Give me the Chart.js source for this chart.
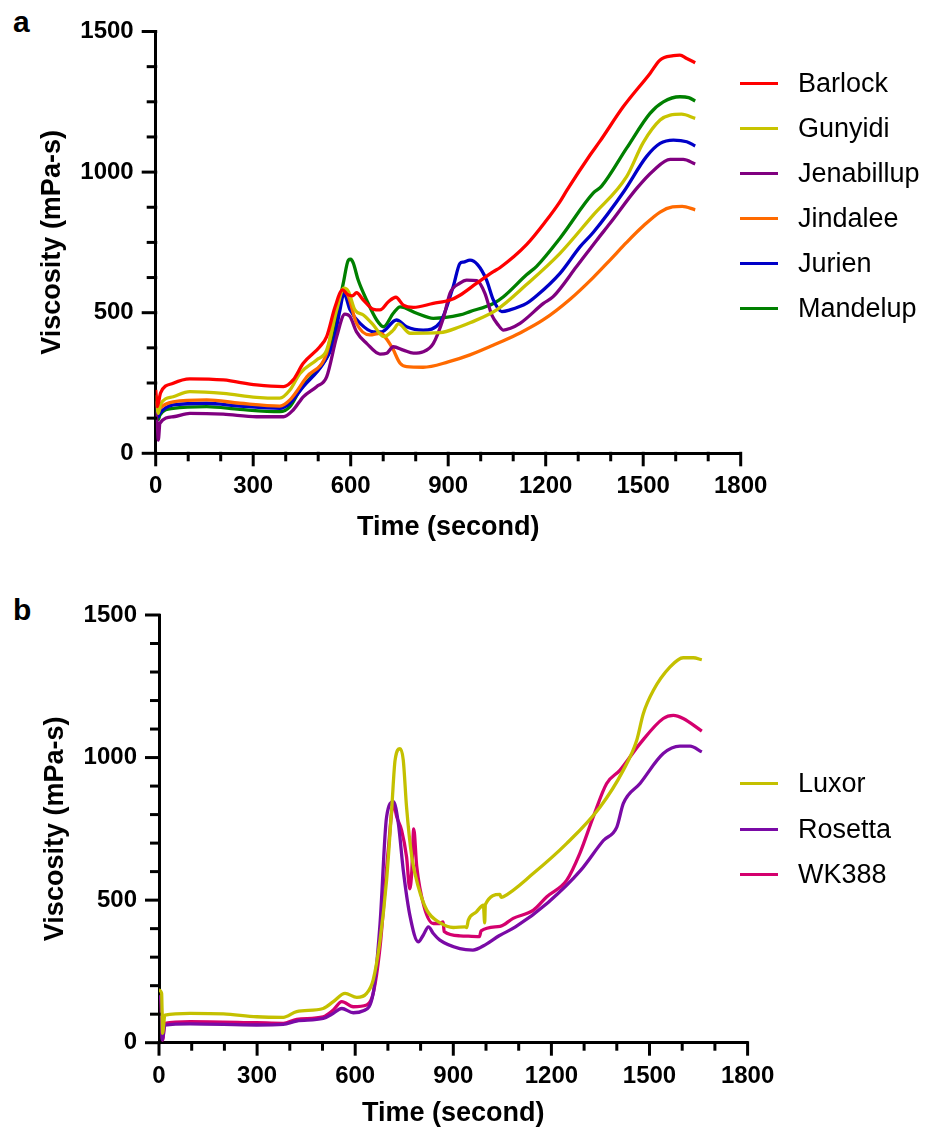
<!DOCTYPE html>
<html>
<head>
<meta charset="utf-8">
<script src="https://cdn.jsdelivr.net/npm/chart.js@4.4.1/dist/chart.umd.min.js"></script>
<style>
  html, body { margin:0; padding:0; background:#fff; }
  body { width:925px; height:1132px; position:relative; overflow:hidden; font-family:"Liberation Sans", Arial, sans-serif; }
  .cv { position:absolute; left:0; width:925px; height:566px; }
  .panel { position:absolute; font-weight:bold; font-size:30px; line-height:30px; color:#000; }
  .leg { position:absolute; left:740px; height:0; }
  .leg .ln { position:absolute; left:0; top:-1.5px; width:38px; height:3px; }
  .leg .tx { position:absolute; left:58px; top:-16px; font-size:27px; line-height:32px; white-space:nowrap; color:#000; }
</style>
</head>
<body>
<div class="panel" style="left:13px; top:7px;">a</div>
<div class="panel" style="left:13px; top:595px;">b</div>
<canvas id="ca" class="cv" style="top:0px;" width="925" height="566"></canvas>
<canvas id="cb" class="cv" style="top:566px;" width="925" height="566"></canvas>
<div id="legA"></div>
<div id="legB"></div>
<script>
// ---------- Panel a data ----------
const namesA = ["Barlock", "Gunyidi", "Jenabillup", "Jindalee", "Jurien", "Mandelup"];
const colorsA = ["#ff0000", "#c8c400", "#800080", "#ff6a00", "#0000c8", "#008000"];

const barlockT = [0, 5, 15, 54, 105, 208, 310, 393, 423, 454, 505, 526, 552, 575, 590, 605, 618, 639, 670, 690, 716, 739, 762, 793, 854, 906, 936, 988, 1039, 1059, 1141, 1200, 1244, 1265, 1336, 1367, 1439, 1521, 1552, 1593, 1613, 1634, 1660];
const barlockV = [225, 166, 215, 249, 265, 261, 243, 237, 261, 320, 379, 415, 521, 581, 565, 560, 571, 545, 512, 510, 539, 555, 527, 519, 533, 545, 562, 605, 646, 660, 742, 825, 895, 935, 1060, 1110, 1233, 1351, 1399, 1414, 1416, 1404, 1389];

const gunyidiT = [0, 8, 15, 54, 105, 208, 310, 382, 413, 444, 495, 526, 557, 579, 593, 613, 639, 670, 701, 731, 747, 783, 875, 936, 967, 1049, 1141, 1244, 1346, 1449, 1500, 1552, 1583, 1618, 1660];
const gunyidiV = [207, 142, 175, 201, 219, 213, 199, 196, 225, 284, 332, 367, 510, 587, 575, 510, 492, 456, 415, 438, 460, 427, 429, 450, 464, 510, 600, 711, 847, 984, 1105, 1185, 1203, 1206, 1191];

const jenabillupT = [0, 5, 8, 13, 54, 105, 208, 310, 393, 423, 454, 495, 526, 557, 582, 598, 618, 649, 690, 711, 731, 762, 793, 823, 854, 885, 906, 936, 957, 988, 1013, 1034, 1054, 1070, 1090, 1121, 1193, 1223, 1295, 1357, 1398, 1480, 1531, 1583, 1623, 1660];
const jenabillupV = [150, 100, 47, 107, 130, 142, 139, 130, 130, 154, 201, 237, 272, 415, 495, 486, 432, 391, 353, 356, 379, 367, 356, 361, 390, 480, 570, 605, 616, 614, 569, 492, 456, 438, 444, 462, 533, 557, 664, 758, 818, 942, 1005, 1045, 1045, 1029];

const jindaleeT = [0, 8, 13, 54, 157, 259, 382, 413, 465, 526, 557, 577, 593, 618, 659, 690, 726, 752, 772, 823, 900, 967, 1059, 1121, 1193, 1275, 1346, 1400, 1449, 1500, 1552, 1590, 1620, 1660];
const jindaleeV = [185, 150, 160, 183, 190, 178, 168, 190, 272, 356, 521, 583, 557, 462, 421, 427, 379, 320, 308, 306, 325, 350, 395, 428, 475, 548, 625, 690, 750, 808, 858, 876, 878, 866];

const jurienT = [0, 8, 13, 54, 157, 259, 382, 413, 454, 516, 546, 567, 579, 598, 629, 670, 695, 741, 772, 823, 875, 916, 936, 947, 967, 991, 1018, 1039, 1065, 1090, 1141, 1172, 1244, 1306, 1346, 1440, 1510, 1552, 1593, 1634, 1660];
const jurienV = [175, 130, 142, 172, 178, 168, 160, 178, 237, 320, 391, 510, 569, 510, 462, 432, 432, 474, 450, 438, 465, 595, 675, 680, 687, 670, 616, 545, 504, 510, 533, 560, 640, 735, 785, 930, 1055, 1102, 1114, 1108, 1093];

const mandelupT = [0, 8, 13, 54, 157, 259, 382, 413, 444, 505, 536, 562, 577, 593, 600, 608, 623, 649, 680, 701, 731, 752, 803, 854, 936, 967, 1039, 1070, 1141, 1172, 1244, 1346, 1372, 1449, 1521, 1562, 1613, 1640, 1660];
const mandelupV = [160, 120, 136, 160, 166, 156, 148, 166, 225, 308, 367, 521, 604, 687, 690, 676, 616, 545, 474, 450, 498, 521, 498, 480, 492, 504, 533, 557, 635, 665, 765, 925, 950, 1085, 1209, 1250, 1268, 1265, 1253];

// ---------- Panel b data ----------
const namesB = ["Luxor", "Rosetta", "WK388"];
const colorsB = ["#c4c000", "#7a0aa6", "#d4006e"];

const luxorT = [0, 8, 11, 18, 95, 197, 299, 380, 421, 502, 533, 569, 605, 635, 655, 676, 696, 712, 722, 737, 747, 757, 773, 793, 819, 859, 900, 936, 941, 946, 970, 992, 996, 998, 1043, 1046, 1053, 1145, 1247, 1349, 1420, 1461, 1481, 1512, 1563, 1603, 1634, 1660];
const luxorV = [185, 173, 33, 97, 103, 101, 91, 89, 109, 120, 144, 173, 159, 173, 220, 360, 570, 827, 991, 1031, 991, 827, 652, 547, 465, 421, 404, 406, 404, 430, 458, 482, 420, 485, 520, 510, 512, 594, 699, 827, 956, 1061, 1154, 1236, 1318, 1350, 1350, 1343];

const rosettaT = [0, 6, 10, 18, 95, 299, 380, 421, 502, 533, 559, 594, 625, 655, 676, 696, 717, 732, 747, 768, 793, 808, 824, 839, 859, 920, 960, 1000, 1040, 1090, 1190, 1290, 1359, 1400, 1420, 1471, 1542, 1593, 1624, 1660];
const rosettaV = [165, 150, 10, 62, 66, 62, 64, 76, 85, 103, 120, 105, 112, 173, 418, 792, 845, 769, 605, 442, 354, 377, 406, 383, 360, 330, 325, 345, 375, 406, 492, 605, 709, 756, 839, 909, 1014, 1040, 1040, 1020];

const wk388T = [0, 6, 11, 18, 95, 299, 380, 421, 502, 533, 559, 594, 635, 655, 676, 701, 717, 727, 742, 757, 767, 773, 779, 788, 810, 839, 859, 869, 872, 920, 980, 985, 1043, 1083, 1145, 1186, 1247, 1287, 1328, 1369, 1410, 1471, 1542, 1573, 1603, 1660];
const wk388V = [161, 150, 9, 68, 74, 70, 68, 82, 91, 115, 144, 126, 132, 173, 336, 675, 839, 792, 745, 652, 540, 600, 750, 620, 480, 418, 418, 424, 390, 375, 372, 392, 408, 436, 465, 512, 570, 664, 792, 909, 956, 1049, 1137, 1148, 1137, 1093];

// ---------- Axes ----------
const xTickLabels = [0, 300, 600, 900, 1200, 1500, 1800];
const yTickLabels = [0, 500, 1000, 1500];
const xMinorStep = 100;
const yMinorStepA = 125;
const yMinorStepB = 100;

const FONT = "'Liberation Sans', Arial, sans-serif";

const tickMarks = {
  id: 'tickMarks',
  afterDraw(chart, args, opts) {
    const ctx = chart.ctx;
    const xs = chart.scales.x, ys = chart.scales.y;
    ctx.save();
    ctx.strokeStyle = '#000';
    ctx.lineWidth = 3;
    ctx.lineCap = 'butt';
    const yMax = yTickLabels[yTickLabels.length - 1];
    for (let v = 0; v <= yMax + 0.001; v += opts.yMinor) {
      const py = ys.getPixelForValue(v);
      const major = yTickLabels.includes(v);
      const len = major ? 14 : 9;
      ctx.beginPath(); ctx.moveTo(xs.left + 1.5, py); ctx.lineTo(xs.left - len, py); ctx.stroke();
    }
    const xMax = xTickLabels[xTickLabels.length - 1];
    for (let v = 0; v <= xMax + 0.001; v += xMinorStep) {
      const px = xs.getPixelForValue(v);
      const major = xTickLabels.includes(v);
      const len = major ? 13 : 8;
      ctx.beginPath(); ctx.moveTo(px, ys.bottom - 1.5); ctx.lineTo(px, ys.bottom + len); ctx.stroke();
    }
    ctx.restore();
  }
};

function series(t, v) { return t.map((tt, i) => ({ x: tt, y: v[i] })); }

function makeChart(id, names, colors, seriesList, geom) {
  const datasets = names.map((n, i) => ({
    label: n,
    data: series(seriesList[i][0], seriesList[i][1]),
    borderColor: colors[i],
    backgroundColor: colors[i],
    borderWidth: 3.3,
    pointRadius: 0,
    fill: false,
    cubicInterpolationMode: 'monotone',
    tension: 0.4
  }));
  return new Chart(document.getElementById(id), {
    type: 'line',
    data: { datasets },
    plugins: [tickMarks],
    options: {
      responsive: false,
      animation: false,
      devicePixelRatio: 1,
      layout: { padding: { left: 0, right: geom.padRight, top: geom.padTop, bottom: 0 } },
      plugins: { legend: { display: false }, tooltip: { enabled: false }, tickMarks: { yMinor: geom.yMinor } },
      scales: {
        x: {
          type: 'linear', min: 0, max: 1800,
          afterBuildTicks: (s) => { s.ticks = xTickLabels.map(v => ({ value: v })); },
          afterFit: (s) => { s.height = geom.xHeight; },
          grid: { display: false, drawTicks: true, tickLength: 13 },
          border: { display: true, color: '#000', width: 3 },
          ticks: { color: '#000', padding: 6, maxRotation: 0, autoSkip: false,
                   callback: (v) => String(v),
                   font: { family: FONT, size: 24, weight: 'bold' } },
          title: { display: true, text: 'Time (second)', color: '#000',
                   font: { family: FONT, size: 27, weight: 'bold' },
                   padding: { top: 0, bottom: geom.xTitlePad } }
        },
        y: {
          type: 'linear', min: 0, max: 1500,
          afterBuildTicks: (s) => { s.ticks = yTickLabels.map(v => ({ value: v })); },
          afterFit: (s) => { s.width = geom.yWidth; },
          grid: { display: false, drawTicks: true, tickLength: 14 },
          border: { display: true, color: '#000', width: 3 },
          ticks: { color: '#000', padding: 8, autoSkip: false,
                   callback: (v) => String(v),
                   font: { family: FONT, size: 24, weight: 'bold' } },
          title: { display: true, text: 'Viscosity (mPa-s)', color: '#000',
                   font: { family: FONT, size: 27, weight: 'bold' },
                   padding: { top: geom.yTitlePad, bottom: 0 } }
        }
      }
    }
  });
}

makeChart('ca', namesA, colorsA, [
  [barlockT, barlockV], [gunyidiT, gunyidiV], [jenabillupT, jenabillupV],
  [jindaleeT, jindaleeV], [jurienT, jurienV], [mandelupT, mandelupV]
], { padRight: 184.3, padTop: 31.5, xHeight: 112.7, yWidth: 155.7, xTitlePad: 21.8, yTitlePad: 36.8, yMinor: yMinorStepA });

makeChart('cb', namesB, colorsB, [
  [luxorT, luxorV], [rosettaT, rosettaV], [wk388T, wk388V]
], { padRight: 177.4, padTop: 49, xHeight: 89.3, yWidth: 159, xTitlePad: 1.8, yTitlePad: 39.8, yMinor: yMinorStepB });

// ---------- HTML legends ----------
function legend(elId, names, colors, ys) {
  const el = document.getElementById(elId);
  names.forEach((n, i) => {
    const d = document.createElement('div');
    d.className = 'leg';
    d.style.top = ys[i] + 'px';
    d.innerHTML = '<div class="ln" style="background:' + colors[i] + '"></div><div class="tx">' + n + '</div>';
    el.appendChild(d);
  });
}
legend('legA', namesA, colorsA, [83.3, 128.3, 173.3, 218.3, 263.3, 308.3]);
legend('legB', namesB, colorsB, [783.3, 829, 874.3]);
</script>
</body>
</html>
